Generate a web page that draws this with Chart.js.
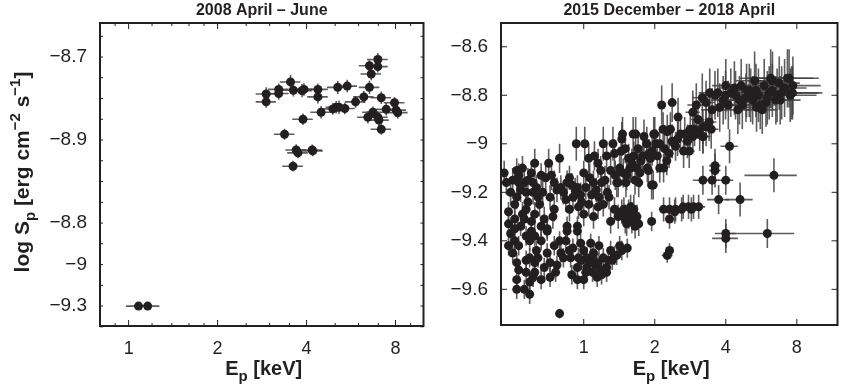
<!DOCTYPE html>
<html>
<head>
<meta charset="utf-8">
<script src="https://cdn.jsdelivr.net/npm/chart.js@4/dist/chart.umd.min.js"></script>
<style>
  body { margin: 0; background: #fff; }
  .panel { position: absolute; top: 0; height: 391px; }
  #leftWrap { left: 0; width: 428px; }
  #rightWrap { left: 424px; width: 418px; }
</style>
</head>
<body>
<div class="panel" id="leftWrap"><canvas id="leftChart"></canvas></div>
<div class="panel" id="rightWrap"><canvas id="rightChart"></canvas></div>
<script>
/* ---------------- Data: 2008 April - June ---------------- */

const leftE = [2.92,2.92,3.22,3.22,3.53,3.61,3.86,3.92,4.37,4.37,4.48,4.91,5.04,5.10,5.15,5.39,5.49,5.86,6.25,6.45,6.53,6.62,6.53,6.71,6.97,6.97,6.97,7.03,7.16,7.16,7.44,7.94,8.04,8.14,3.37,3.69,3.74,4.18,4.20,3.60,3.89,1.08,1.16];
const leftS = [-8.789,-8.808,-8.778,-8.788,-8.760,-8.780,-8.781,-8.778,-8.778,-8.796,-8.833,-8.825,-8.821,-8.773,-8.821,-8.824,-8.770,-8.808,-8.796,-8.845,-8.721,-8.741,-8.773,-8.833,-8.706,-8.723,-8.845,-8.852,-8.798,-8.874,-8.826,-8.810,-8.828,-8.834,-8.886,-8.924,-8.931,-8.924,-8.926,-8.963,-8.850,-9.300,-9.300];
const leftEErr = [0.23,0.23,0.26,0.26,0.28,0.29,0.31,0.31,0.35,0.35,0.36,0.39,0.40,0.41,0.41,0.43,0.44,0.47,0.50,0.52,0.52,0.53,0.52,0.54,0.56,0.56,0.56,0.56,0.57,0.57,0.60,0.64,0.64,0.65,0.27,0.30,0.30,0.33,0.34,0.29,0.31,0.10,0.11];
const leftSErr = [0.016,0.014,0.014,0.015,0.017,0.015,0.016,0.015,0.014,0.016,0.015,0.014,0.015,0.016,0.016,0.014,0.015,0.014,0.015,0.015,0.014,0.015,0.016,0.014,0.016,0.014,0.014,0.015,0.015,0.013,0.015,0.014,0.016,0.014,0.013,0.014,0.013,0.013,0.013,0.013,0.014,0.006,0.006];

const leftYTicks = [-8.7, -8.9, -9.1, -9.2, -9.3];
const leftYLabels = ["\u22128.7", "\u22128.9", "\u22128.8", "\u22129", "\u22129.3"];

/* ---------------- Data: 2015 December - 2018 April ---------------- */

const rightE = [
  0.46,0.47,0.49,0.51,0.52,0.53,0.55,0.56,0.53,0.57,0.57,0.60,0.61,0.61,0.62,0.63,0.66,0.67,0.69,0.71,0.75,0.77,0.79,0.80,0.84,0.85,0.87,0.87,0.92,0.93,0.94,0.95,1.00,1.01,1.02,1.05,1.10,1.11,1.16,1.18,1.21,1.21,1.23,1.30,1.33,1.40,1.45,1.47,1.57,1.62,1.65,1.73,1.80,1.88,1.97,2.00,2.10,
  1.46,1.44,1.63,1.66,1.86,1.89,1.98,2.02,2.18,2.26,2.37,2.45,2.57,2.65,2.68,2.83,2.95,3.20,3.05,2.14,2.37,2.51,2.17,2.33,1.58,1.38,1.51,1.71,1.94,1.05,1.15,1.25,1.35,1.50,1.55,1.70,1.75,1.85,1.95,2.10,2.20,2.30,2.50,2.75,2.90,3.10,3.30,3.40,2.80,3.20,3.47,4.15,
  3.18,3.42,3.70,3.99,4.35,4.65,5.03,5.37,5.82,6.31,6.74,7.42,7.67,5.20,5.71,3.77,4.57,6.52,6.11,4.87,5.92,3.30,3.50,3.90,4.10,4.20,4.40,4.70,4.90,5.10,5.50,5.60,6.00,6.30,6.60,6.90,7.10,7.50,7.70,5.30,4.00,3.60,2.90,3.00,4.50,5.40,6.80,6.20,7.30,7.60,
  3.20,3.60,3.60,3.20,3.50,4.00,3.73,4.60,4.00,4.00,6.00,6.40,
  1.35,1.40,1.45,1.50,1.52,1.55,1.60,1.63,1.68,1.71,1.94,2.18,2.31,2.43,2.64,2.78,2.92,3.07,2.86,2.31,2.26,2.31,1.53,1.45,1.35,
  0.51,0.56,0.60,0.51,0.54,0.85,0.94,1.30,0.70,0.48,0.48,0.49,0.48,0.50,0.51,0.53,0.52,0.57,0.59,0.62,0.64,0.63,0.70,0.68,0.62,0.61,0.52,0.52,0.56,0.59,0.59,0.79,0.80,0.72,0.77,0.76,0.87,0.88,0.95,0.94,0.89,0.94,1.03,1.09,1.12,1.03,1.09,1.02,1.07,1.21,1.27,1.38,1.19,1.25,1.25,0.79,0.85,0.94,0.84,0.62,0.66,0.57,0.59,0.70,0.97,1.15,1.10,1.18,1.32,0.98,
  0.52,0.58,0.65,0.72,0.75,0.90,0.98,1.08,1.15,0.62,0.74,1.00,1.10,0.68,1.28,
  0.50,0.54,0.58,0.64,0.73,0.82,0.89,0.97,1.06,1.13,1.19,1.26,1.36,1.42,1.52,1.60,1.68,1.78,1.92,2.05,2.25,0.55,0.60,0.66,0.75,0.82,0.90,1.00,1.16,1.30,1.42,0.53,0.57,0.66,0.72,1.00,1.06,1.14,1.60,1.65,1.48,1.58,2.45,2.60
];
const rightS = [
  -9.12,-9.16,-9.20,-9.25,-9.11,-9.13,-9.10,-9.16,-9.16,-9.20,-9.27,-9.12,-9.20,-9.16,-9.08,-9.18,-9.13,-9.20,-9.14,-9.08,-9.16,-9.19,-9.06,-9.18,-9.23,-9.16,-9.14,-9.27,-9.19,-9.00,-9.18,-9.26,-9.12,-9.00,-9.18,-9.25,-9.16,-9.05,-9.22,-9.11,-9.00,-9.25,-9.15,-9.11,-9.00,-9.16,-8.98,-9.12,-9.10,-8.96,-9.15,-9.12,-8.97,-9.11,-9.17,-8.96,-9.10,
  -8.96,-9.03,-9.05,-8.96,-9.10,-9.04,-8.96,-9.00,-9.10,-8.95,-8.99,-9.01,-8.96,-9.03,-8.96,-8.94,-8.94,-8.93,-8.90,-8.84,-8.83,-8.89,-8.94,-8.94,-9.10,-9.16,-9.16,-9.16,-9.17,-9.06,-9.08,-9.05,-9.04,-9.02,-9.06,-9.02,-9.07,-9.00,-9.03,-9.00,-9.02,-9.04,-8.98,-8.99,-8.97,-8.96,-8.93,-8.91,-9.03,-8.97,-8.94,-9.01,
  -8.81,-8.79,-8.79,-8.80,-8.77,-8.76,-8.78,-8.78,-8.76,-8.74,-8.75,-8.73,-8.79,-8.82,-8.86,-8.85,-8.82,-8.82,-8.79,-8.81,-8.83,-8.83,-8.86,-8.82,-8.84,-8.79,-8.80,-8.84,-8.78,-8.80,-8.80,-8.84,-8.81,-8.78,-8.80,-8.79,-8.77,-8.80,-8.76,-8.74,-8.76,-8.80,-8.87,-8.84,-8.86,-8.85,-8.82,-8.73,-8.73,-8.79,
  -8.97,-9.09,-9.11,-9.15,-9.15,-9.15,-9.23,-9.23,-9.37,-9.39,-9.37,-9.13,
  -9.27,-9.30,-9.28,-9.31,-9.33,-9.29,-9.32,-9.27,-9.30,-9.33,-9.32,-9.27,-9.27,-9.28,-9.26,-9.26,-9.26,-9.26,-9.27,-9.31,-9.46,-9.44,-9.43,-9.44,-9.46,
  -9.31,-9.31,-9.32,-9.35,-9.34,-9.34,-9.34,-9.32,-9.35,-9.28,-9.33,-9.37,-9.42,-9.45,-9.40,-9.42,-9.49,-9.48,-9.47,-9.49,-9.47,-9.44,-9.45,-9.51,-9.53,-9.55,-9.56,-9.60,-9.60,-9.62,-9.57,-9.40,-9.45,-9.49,-9.50,-9.53,-9.44,-9.47,-9.47,-9.51,-9.54,-9.56,-9.47,-9.47,-9.50,-9.51,-9.53,-9.53,-9.41,-9.47,-9.48,-9.46,-9.54,-9.53,-9.51,-9.70,-9.36,-9.36,-9.40,-9.38,-9.40,-9.38,-9.40,-9.36,-9.41,-9.49,-9.45,-9.52,-9.48,-9.48,
  -9.22,-9.24,-9.25,-9.22,-9.27,-9.22,-9.24,-9.21,-9.26,-9.29,-9.30,-9.29,-9.30,-9.31,-9.22,
  -9.15,-9.19,-9.15,-9.22,-9.13,-9.20,-9.17,-9.21,-9.14,-9.19,-9.16,-9.20,-9.13,-9.10,-9.13,-9.08,-9.10,-9.05,-9.06,-9.05,-9.07,-9.29,-9.36,-9.34,-9.42,-9.47,-9.43,-9.44,-9.42,-9.44,-9.42,-9.52,-9.53,-9.56,-9.55,-9.56,-9.49,-9.55,-9.29,-9.34,-9.27,-9.26,-9.27,-9.27
];
const rightEErr = [
  0.01,0.01,0.01,0.01,0.01,0.01,0.01,0.01,0.01,0.01,0.01,0.01,0.01,0.01,0.01,0.01,0.01,0.01,0.01,0.02,0.02,0.02,0.02,0.02,0.02,0.02,0.02,0.02,0.02,0.02,0.02,0.02,0.02,0.02,0.02,0.02,0.03,0.03,0.03,0.03,0.03,0.03,0.03,0.04,0.04,0.04,0.04,0.04,0.05,0.05,0.05,0.05,0.06,0.06,0.08,0.08,0.08,
  0.05,0.05,0.05,0.05,0.06,0.06,0.07,0.07,0.08,0.09,0.10,0.10,0.12,0.12,0.12,0.15,0.15,0.20,0.20,0.08,0.10,0.10,0.08,0.10,0.05,0.04,0.05,0.05,0.06,0.03,0.03,0.03,0.04,0.05,0.05,0.05,0.05,0.06,0.06,0.08,0.08,0.10,0.10,0.15,0.15,0.20,0.20,0.25,0.15,0.20,0.25,0.35,
  0.30,0.35,0.40,0.50,0.60,0.70,0.80,0.90,1.10,1.30,1.50,2.50,2.60,0.80,0.90,0.40,0.60,1.30,1.20,0.70,1.10,0.30,0.35,0.45,0.50,0.55,0.60,0.70,0.75,0.80,0.90,0.95,1.10,1.20,1.40,1.50,1.70,2.20,2.40,0.90,0.50,0.40,0.20,0.25,0.60,0.90,1.50,1.60,2.10,2.30,
  0.25,0.20,0.20,0.30,0.25,0.30,0.40,0.60,0.40,0.50,1.80,1.60,
  0.05,0.05,0.05,0.05,0.05,0.05,0.06,0.06,0.06,0.06,0.07,0.10,0.10,0.10,0.15,0.15,0.20,0.20,0.15,0.10,0.12,0.10,0.05,0.05,0.04,
  0.01,0.01,0.01,0.01,0.01,0.02,0.02,0.04,0.02,0.01,0.01,0.01,0.01,0.01,0.01,0.01,0.01,0.01,0.01,0.01,0.01,0.01,0.02,0.02,0.01,0.01,0.01,0.01,0.01,0.01,0.01,0.02,0.02,0.02,0.02,0.02,0.02,0.02,0.02,0.02,0.02,0.02,0.03,0.03,0.03,0.03,0.03,0.03,0.03,0.03,0.04,0.04,0.03,0.04,0.04,0.02,0.02,0.02,0.02,0.01,0.02,0.01,0.01,0.02,0.02,0.03,0.03,0.03,0.04,0.02,
  0.01,0.01,0.01,0.02,0.02,0.02,0.02,0.03,0.03,0.01,0.02,0.02,0.03,0.02,0.04,
  0.01,0.01,0.01,0.01,0.02,0.02,0.02,0.02,0.03,0.03,0.03,0.04,0.04,0.04,0.05,0.05,0.05,0.06,0.07,0.08,0.09,0.01,0.01,0.01,0.02,0.02,0.02,0.02,0.03,0.04,0.04,0.01,0.01,0.01,0.02,0.02,0.03,0.03,0.05,0.05,0.05,0.05,0.12,0.13
];
const rightSErr = [
  0.05,0.05,0.05,0.05,0.05,0.05,0.05,0.05,0.04,0.05,0.05,0.05,0.05,0.05,0.06,0.05,0.05,0.05,0.05,0.06,0.05,0.05,0.06,0.05,0.05,0.05,0.05,0.05,0.05,0.07,0.05,0.05,0.05,0.07,0.05,0.05,0.05,0.06,0.05,0.06,0.07,0.05,0.06,0.06,0.07,0.06,0.07,0.06,0.06,0.07,0.06,0.06,0.07,0.06,0.06,0.07,0.06,
  0.07,0.06,0.06,0.07,0.06,0.06,0.07,0.06,0.06,0.07,0.07,0.06,0.07,0.07,0.07,0.07,0.07,0.07,0.08,0.08,0.08,0.08,0.07,0.07,0.06,0.06,0.06,0.06,0.06,0.06,0.06,0.06,0.06,0.06,0.06,0.06,0.06,0.07,0.06,0.07,0.06,0.06,0.07,0.07,0.07,0.07,0.08,0.08,0.07,0.07,0.08,0.07,
  0.10,0.10,0.10,0.10,0.11,0.11,0.11,0.11,0.11,0.12,0.11,0.12,0.11,0.10,0.10,0.10,0.10,0.10,0.11,0.10,0.10,0.09,0.09,0.10,0.10,0.10,0.10,0.10,0.11,0.11,0.11,0.10,0.11,0.11,0.11,0.11,0.12,0.11,0.12,0.12,0.11,0.10,0.09,0.09,0.10,0.10,0.10,0.12,0.12,0.11,
  0.07,0.07,0.07,0.06,0.06,0.06,0.06,0.07,0.06,0.06,0.06,0.07,
  0.05,0.05,0.05,0.06,0.05,0.06,0.05,0.06,0.05,0.05,0.04,0.05,0.05,0.05,0.05,0.05,0.05,0.05,0.05,0.04,0.03,0.03,0.04,0.04,0.04,
  0.04,0.04,0.04,0.04,0.04,0.04,0.04,0.05,0.04,0.04,0.04,0.04,0.04,0.04,0.04,0.04,0.04,0.04,0.04,0.04,0.04,0.04,0.04,0.04,0.04,0.04,0.04,0.04,0.04,0.04,0.04,0.04,0.04,0.04,0.04,0.04,0.04,0.04,0.04,0.04,0.04,0.04,0.04,0.04,0.04,0.04,0.04,0.04,0.04,0.04,0.04,0.04,0.04,0.04,0.04,0.02,0.04,0.04,0.04,0.04,0.04,0.04,0.04,0.04,0.04,0.04,0.04,0.04,0.04,0.04,
  0.05,0.05,0.05,0.05,0.05,0.05,0.05,0.05,0.05,0.05,0.05,0.05,0.05,0.05,0.05,
  0.05,0.05,0.05,0.05,0.06,0.05,0.05,0.05,0.06,0.05,0.05,0.05,0.06,0.06,0.06,0.06,0.06,0.07,0.06,0.07,0.06,0.05,0.04,0.04,0.04,0.04,0.04,0.04,0.04,0.04,0.04,0.04,0.04,0.04,0.04,0.04,0.04,0.04,0.05,0.05,0.05,0.05,0.05,0.05
];

const rightYTicks = [-8.6, -8.8, -9, -9.2, -9.4, -9.6];
const rightYLabels = ["\u22128.6", "\u22128.8", "\u22129", "\u22129.2", "\u22129.4", "\u22129.6"];

const xTicks = [1, 2, 4, 8];

/* ---------------- Styling ---------------- */

const FONT = "'Liberation Sans', Arial, sans-serif";
const INK = "#231f20";

/* ---------------- Plugins ---------------- */

function errorBarPlugin(xErr, yErr) {
    return {
        id: "errorBars",
        beforeDatasetsDraw(chart) {
            const { ctx, chartArea: a, scales: { x, y } } = chart;
            const pts = chart.data.datasets[0].data;
            ctx.save();
            ctx.beginPath();
            ctx.rect(a.left, a.top, a.right - a.left, a.bottom - a.top);
            ctx.clip();
            ctx.strokeStyle = "rgba(65,65,65,0.85)";
            ctx.lineWidth = 1.6;
            pts.forEach((p, i) => {
                const px = x.getPixelForValue(p.x);
                const py = y.getPixelForValue(p.y);
                ctx.beginPath();
                ctx.moveTo(x.getPixelForValue(p.x - xErr[i]), py);
                ctx.lineTo(x.getPixelForValue(p.x + xErr[i]), py);
                ctx.moveTo(px, y.getPixelForValue(p.y - yErr[i]));
                ctx.lineTo(px, y.getPixelForValue(p.y + yErr[i]));
                ctx.stroke();
            });
            ctx.restore();
        }
    };
}

// draw a run of text pieces [text, baselineShift, size]
function richText(ctx, pieces, cx, baseY) {
    let total = 0;
    pieces.forEach(([t, , s]) => {
        ctx.font = "bold " + s + "px " + FONT;
        total += ctx.measureText(t).width;
    });
    let px = cx - total / 2;
    pieces.forEach(([t, dy, s]) => {
        ctx.font = "bold " + s + "px " + FONT;
        ctx.fillText(t, px, baseY + dy);
        px += ctx.measureText(t).width;
    });
}

function framePlugin(cfg) {
    return {
        id: "frame",
        afterDraw(chart) {
            const { ctx, chartArea: a, scales: { x, y } } = chart;
            ctx.save();
            ctx.strokeStyle = INK;
            ctx.fillStyle = INK;

            const seg = (x1, y1, x2, y2) => {
                ctx.beginPath();
                ctx.moveTo(x1, y1);
                ctx.lineTo(x2, y2);
                ctx.stroke();
            };

            ctx.lineWidth = 1;
            cfg.xMajor.forEach(v => {
                const px = x.getPixelForValue(v);
                seg(px, a.bottom, px, a.bottom - 6);
                seg(px, a.top, px, a.top + 6);
            });
            cfg.xMinor.forEach(v => {
                const px = x.getPixelForValue(v);
                seg(px, a.bottom, px, a.bottom - 3);
                seg(px, a.top, px, a.top + 3);
            });
            cfg.yMajor.forEach(v => {
                const py = y.getPixelForValue(v);
                seg(a.left, py, a.left + 6, py);
                seg(a.right, py, a.right - 6, py);
            });
            cfg.yMinor.forEach(v => {
                const py = y.getPixelForValue(v);
                seg(a.left, py, a.left + 3, py);
                seg(a.right, py, a.right - 3, py);
            });

            ctx.lineWidth = 2;
            ctx.strokeRect(a.left, a.top, a.right - a.left, a.bottom - a.top);

            const cx = (a.left + a.right) / 2;
            ctx.textBaseline = "alphabetic";

            // panel title
            ctx.font = "bold 16px " + FONT;
            ctx.textAlign = "center";
            ctx.fillText(cfg.title, cx, 15);
            ctx.textAlign = "left";

            // x title: E_p [keV]
            richText(ctx, [["E", 0, 20], ["p", 6, 15], [" [keV]", 0, 20]], cx + 2, 375);

            // y title: log S_p [erg cm^-2 s^-1]
            if (cfg.yTitle) {
                ctx.translate(29, 172);
                ctx.rotate(-Math.PI / 2);
                richText(ctx, [
                    ["log S", 0, 21], ["p", 6, 15], [" [erg cm", 0, 21],
                    ["\u22122", -9, 15], [" s", 0, 21], ["\u22121", -9, 15], ["]", 0, 21]
                ], 0, 0);
            }
            ctx.restore();
        }
    };
}

/* ---------------- Chart builder ---------------- */

function createPanel(canvasId, p) {

    new Chart(

        document.getElementById(canvasId),

        {
            type: "scatter",

            data: {
                datasets: [
                    {
                        data: p.e.map((v, i) => ({ x: v, y: p.s[i] })),
                        backgroundColor: INK,
                        borderWidth: 0,
                        pointRadius: 4.5,
                        pointHoverRadius: 4.5
                    }
                ]
            },

            options: {
                responsive: true,
                maintainAspectRatio: false,
                animation: false,
                events: [],
                layout: { padding: { top: 23, right: p.padRight, left: 0, bottom: 0 } },
                plugins: { legend: { display: false }, tooltip: { enabled: false } },
                scales: {
                    x: {
                        type: "logarithmic",
                        min: p.xMin,
                        max: p.xMax,
                        grid: { display: false },
                        border: { display: false },
                        afterBuildTicks: s => { s.ticks = xTicks.map(v => ({ value: v })); },
                        afterFit: s => { s.height = p.xAxisHeight; },
                        ticks: {
                            autoSkip: false,
                            maxRotation: 0,
                            padding: 4,
                            color: INK,
                            font: { family: FONT, size: 18 },
                            callback: v => String(v)
                        }
                    },
                    y: {
                        min: p.yMin,
                        max: p.yMax,
                        grid: { display: false },
                        border: { display: false },
                        afterBuildTicks: s => { s.ticks = p.yTicks.map(v => ({ value: v })); },
                        afterFit: s => { s.width = p.yAxisWidth; },
                        ticks: {
                            autoSkip: false,
                            padding: 5,
                            color: INK,
                            font: { family: FONT, size: 19 },
                            callback: (v, i) => p.yLabels[i]
                        }
                    }
                }
            },

            plugins: [errorBarPlugin(p.eErr, p.sErr), framePlugin(p.frame)]
        }

    );

}

/* ---------------- Start ---------------- */

const leftYMinor = [];
for (let v = -9.35; v <= -8.64; v += 0.05) leftYMinor.push(v);

createPanel("leftChart", {
    e: leftE, s: leftS, eErr: leftEErr, sErr: leftSErr,
    xMin: 0.8, xMax: 9.95, yMin: -9.348, yMax: -8.618,
    yTicks: leftYTicks, yLabels: leftYLabels,
    yAxisWidth: 100, xAxisHeight: 65, padRight: 4,
    frame: {
        title: "2008 April \u2013 June", yTitle: true,
        xMajor: xTicks, xMinor: [0.9, 1.2, 1.4, 1.6, 1.8, 2.5, 3, 3.5, 5, 6, 7, 9],
        yMajor: [], yMinor: leftYMinor
    }
});

createPanel("rightChart", {
    e: rightE, s: rightS, eErr: rightEErr, sErr: rightSErr,
    xMin: 0.446, xMax: 11.9, yMin: -9.747, yMax: -8.502,
    yTicks: rightYTicks, yLabels: rightYLabels,
    yAxisWidth: 77, xAxisHeight: 66, padRight: 2,
    frame: {
        title: "2015 December \u2013 2018 April", yTitle: false,
        xMajor: xTicks, xMinor: [],
        yMajor: rightYTicks, yMinor: []
    }
});
</script>
</body>
</html>
